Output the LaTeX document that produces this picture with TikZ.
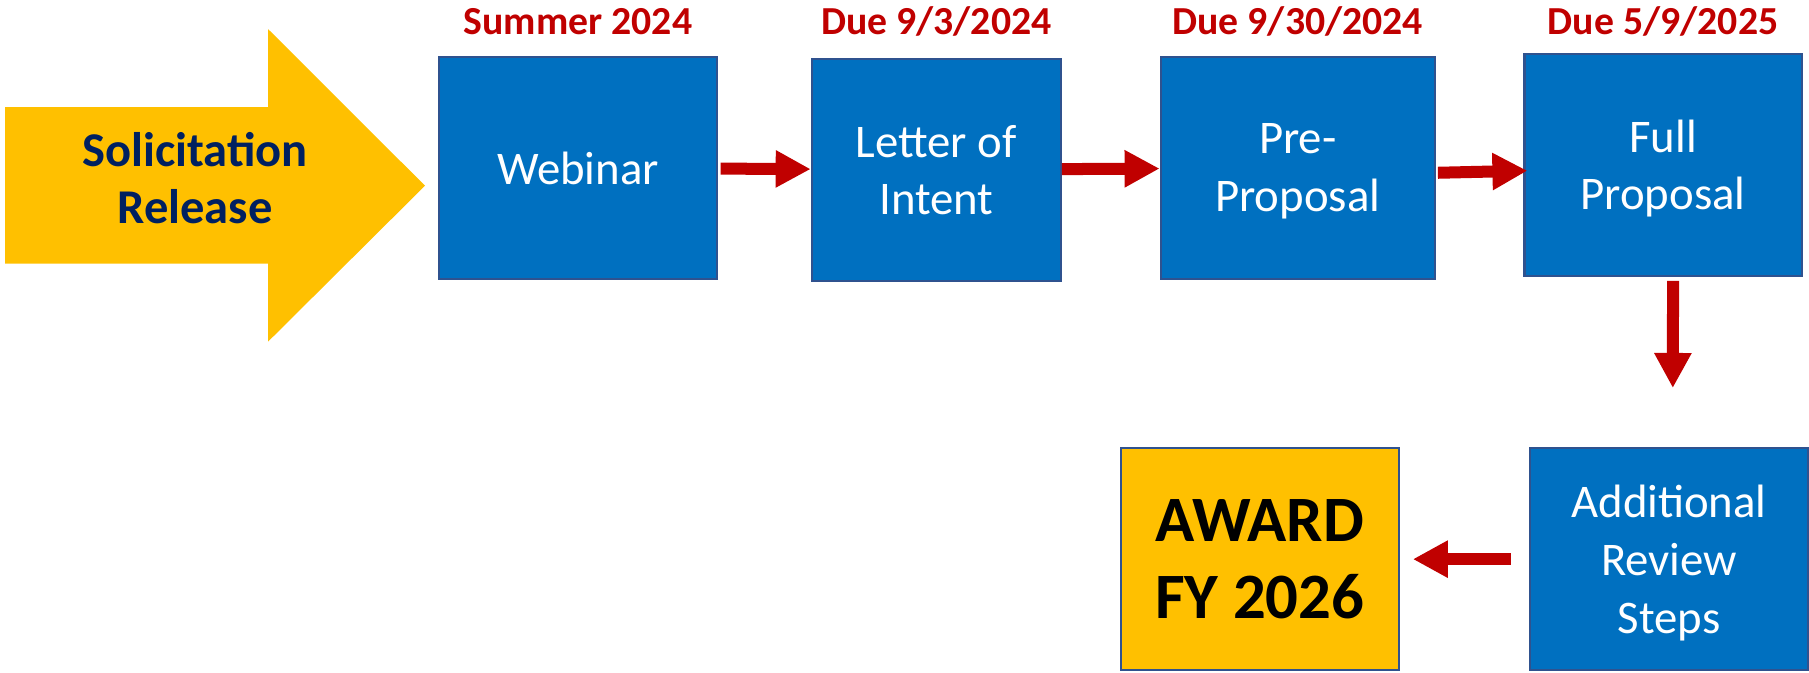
\documentclass[tikz,border=0pt]{standalone}
\usepackage{fontspec}
\setmainfont{Carlito}
\usetikzlibrary{arrows.meta,positioning}
\definecolor{stepblue}{HTML}{0070C0}
\definecolor{edgeblue}{HTML}{2F528F}
\definecolor{gold}{HTML}{FFC000}
\definecolor{darkred}{HTML}{C00000}
\definecolor{navy}{HTML}{002060}

\begin{document}
\begin{tikzpicture}[x=0.01cm, y=-0.01cm, node distance=0.93cm,
                    flow/.style={draw=darkred, line width=0.12cm,
                                 -{Triangle[length=0.35cm,width=0.35cm]}}]
  \tikzstyle{stage}=[draw=edgeblue, line width=0.6pt, fill=stepblue, text=white,
                     align=center, minimum height=2.22cm, inner sep=0pt, text depth=0pt,
                     font=\fontsize{13.3}{16.4}\selectfont]
  \tikzstyle{due}=[text=darkred, inner sep=0pt, text depth=0pt,
                   font=\bfseries\fontsize{11.3}{13}\selectfont]

  \useasboundingbox (0,0) rectangle (1809,672);

  % release arrow
  \fill[gold] (5,107) -- (268,107) -- (268,29) -- (425,185.7) -- (268,341.7)
              -- (268,263.7) -- (5,263.7) -- cycle;
  \node[text=navy, align=center, font=\bfseries\fontsize{13.8}{16.4}\selectfont]
       (release) at (195,178) {Solicitation\\Release};

  \node[stage, minimum width=2.77cm] (webinar) at (578,167.8)              {Webinar};
  \node[stage, minimum width=2.49cm] (letter)  [right=of webinar, yshift=-0.02cm] {Letter of\\Intent};
  \node[stage, minimum width=2.74cm] (pre)     [right=0.976cm of letter, yshift=0.02cm] {Pre-\\Proposal};
  \node[stage, minimum width=2.77cm] (full)    [right=0.875cm of pre, yshift=0.03cm]    {Full\\Proposal};
  \node[stage, minimum width=2.78cm] (review)  [below=1.70cm of full, xshift=0.06cm]    {Additional\\Review\\Steps};
  \node[stage, minimum width=2.78cm, fill=gold, text=black,
        font=\bfseries\fontsize{18.4}{22}\selectfont]
                                     (award)   [left=1.29cm of review]   {AWARD\\FY 2026};

  \node[due] (d_webinar) [above=0.20cm of webinar] {Summer 2024};
  \node[due] (d_letter)  [above=0.22cm of letter]  {Due 9/3/2024};
  \node[due] (d_pre)     [above=0.20cm of pre]     {Due 9/30/2024};
  \node[due] (d_full)    [above=0.17cm of full]    {Due 5/9/2025};

  \path (webinar) edge[flow, shorten <=0.03cm] (letter)
        (letter)  edge[flow] (pre)
        ([yshift=-0.05cm]pre.east) edge[flow, shorten <=0.02cm, shorten >=-0.04cm]
                                   ([yshift=-0.06cm]full.west)
        ([xshift=0.1cm,yshift=-0.04cm]full.south) edge[flow, shorten >=0.59cm]
                                   ([xshift=0.036cm]review.north)
        (review)  edge[flow, shorten <=0.18cm, shorten >=0.13cm] (award);
\end{tikzpicture}
\end{document}
